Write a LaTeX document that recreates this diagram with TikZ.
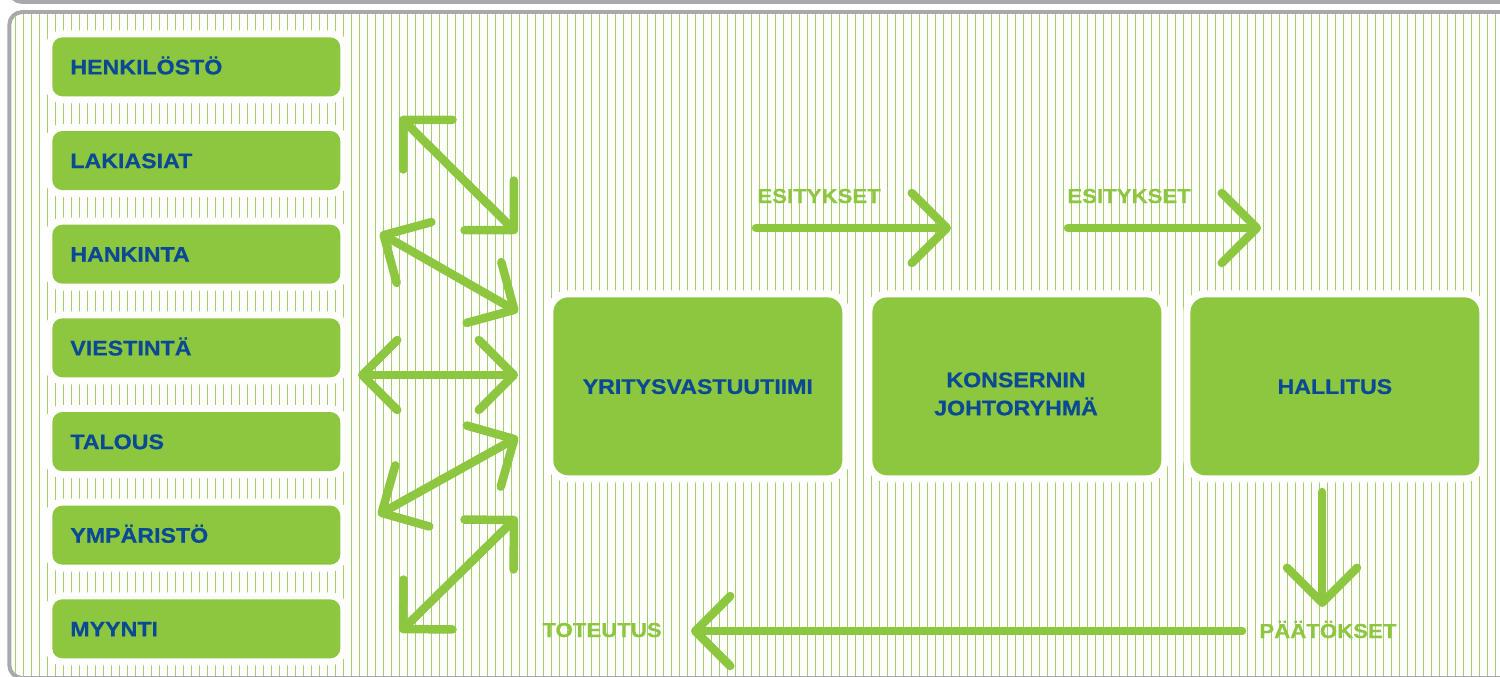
\documentclass[tikz,border=0pt]{standalone}
\usepackage{fontspec}
\setmainfont{Liberation Sans}[FakeStretch=1.1, BoldFeatures={FakeBold=0.6}]
\usepackage{tikz}
\usepackage{xcolor}
\usetikzlibrary{arrows.meta}
\definecolor{leafgreen}{RGB}{141,198,63}
\definecolor{stripegreen}{RGB}{165,205,110}
\definecolor{framegray}{RGB}{167,169,172}
\definecolor{navyblue}{RGB}{10,74,148}

\begin{document}
\begin{tikzpicture}[x=0.02cm, y=-0.02cm,
    chev/.tip={Straight Barb[length=0.7cm, width=1.4cm, round]},
    flow/.style={draw=leafgreen, line width=0.17cm, line cap=round},
    unitbox/.style={fill=leafgreen, rounded corners=0.2cm, text=navyblue,
        font=\bfseries\fontsize{12}{14}\selectfont, text width=5.04cm,
        inner xsep=0.36cm, inner ysep=0pt, minimum height=1.18cm, align=left,
        text height=8.6pt, text depth=0pt, anchor=north west,
        preaction={draw=white, line width=0.28cm}},
    teambox/.style={fill=leafgreen, rounded corners=0.3cm, text=navyblue,
        font=\bfseries\fontsize{12}{16}\selectfont, minimum width=5.78cm,
        minimum height=3.56cm, inner sep=0pt, align=center,
        text height=8.6pt, text depth=0pt, anchor=north west,
        preaction={draw=white, line width=0.28cm}},
    teamtext/.style={text=navyblue, font=\bfseries\fontsize{12}{16}\selectfont,
        inner sep=0pt, align=center},
    flowlabel/.style={text=leafgreen, font=\bfseries\fontsize{11.5}{13}\selectfont,
        inner sep=0pt, anchor=base west}]
    \useasboundingbox (0,0) rectangle (1500,676);
    % 外框
    \draw[framegray, line width=0.08cm, rounded corners=0.26cm] (9.3,-200) rectangle (1700,2);
    \draw[framegray, line width=0.08cm, rounded corners=0.26cm] (9.3,12) rectangle (1700,678);
    % 竖条纹背景
    \begin{scope}
        \clip[rounded corners=0.22cm] (11.3,14) rectangle (1700,676);
        \foreach \x in {15.3,23.3,...,1500}
            \draw[stripegreen, line width=0.6pt] (\x,14) -- (\x,676);
    \end{scope}
    % 左侧部门
    \node[unitbox] (henkilosto) at (52,37) {HENKILÖSTÖ};
    \node[unitbox] (lakiasiat) at (52,130.7) {LAKIASIAT};
    \node[unitbox] (hankinta) at (52,224.3) {HANKINTA};
    \node[unitbox] (viestinta) at (52,318) {VIESTINTÄ};
    \node[unitbox] (talous) at (52,411.7) {TALOUS};
    \node[unitbox] (ymparisto) at (52,505.3) {YMPÄRISTÖ};
    \node[unitbox] (myynti) at (52,599) {MYYNTI};
    % 中间三个框
    \node[teambox] (tiimi) at (553,297) {YRITYSVASTUUTIIMI};
    \node[teambox] (konserni) at (872,297) {};
    \node[teamtext] (konserni-txt) at (1016,394) {KONSERNIN\\JOHTORYHMÄ};
    \node[teambox] (hallitus) at (1190,297) {HALLITUS};
    % 双向箭头
    \coordinate (w1) at (400,117);  \coordinate (e1) at (517,233);
    \coordinate (w2) at (380,233);  \coordinate (e2) at (518,312);
    \coordinate (w3) at (358,375);  \coordinate (e3) at (518,375);
    \coordinate (w4) at (378,515);  \coordinate (e4) at (518,437);
    \coordinate (w5) at (400,632);  \coordinate (e5) at (517,517);
    \draw[flow, chev-chev] (w1) -- (e1);
    \draw[flow, chev-chev] (w2) -- (e2);
    \draw[flow, chev-chev] (w3) -- (e3);
    \draw[flow, chev-chev] (w4) -- (e4);
    \draw[flow, chev-chev] (w5) -- (e5);
    % 流程箭头
    \coordinate (p1) at (756,228);  \coordinate (q1) at (951,228);
    \coordinate (p2) at (1068,228); \coordinate (q2) at (1261,228);
    \coordinate (p3) at (1322,492); \coordinate (q3) at (1322,607);
    \coordinate (p4) at (1242,631); \coordinate (q4) at (691,631);
    \draw[flow, -chev] (p1) -- (q1);
    \draw[flow, -chev] (p2) -- (q2);
    \draw[flow, -chev] (p3) -- (q3);
    \draw[flow, -chev] (p4) -- (q4);
    \node[flowlabel] (esitys1) at (757,203) {ESITYKSET};
    \node[flowlabel] (esitys2) at (1067,203) {ESITYKSET};
    \node[flowlabel] (paatos) at (1259,638) {PÄÄTÖKSET};
    \node[flowlabel] (toteutus) at (542,637) {TOTEUTUS};
\end{tikzpicture}
\end{document}
